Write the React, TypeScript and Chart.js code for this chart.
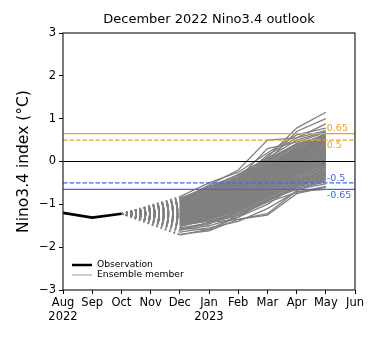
import React, { useEffect, useRef } from 'react';
import { Chart, registerables } from 'chart.js';
Chart.register(...registerables);

const titleText = 'December 2022 Nino3.4 outlook';
const yTitle = 'Nino3.4 index (°C)';
const monthLabels = ['Aug', 'Sep', 'Oct', 'Nov', 'Dec', 'Jan', 'Feb', 'Mar', 'Apr', 'May', 'Jun'];
const yearLabels: Record<number, string> = { 0: '2022', 5: '2023' };
const yTicks = [-3, -2, -1, 0, 1, 2, 3];

const obsMonths = [0, 1, 2];
const obsValues = [-1.2, -1.31, -1.22];

// ensemble start at Oct (last observation), then Dec..May
const ensMonths = [2, 4, 5, 6, 7, 8, 9];
const ensStart = -1.22;
const ensembleMembers: number[][] = [
  [-0.88, -0.58, -0.32, 0.05, 0.42, 0.6],
  [-0.92, -0.62, -0.38, 0.0, 0.38, 0.55],
  [-0.95, -0.66, -0.42, -0.05, 0.32, 0.52],
  [-0.98, -0.72, -0.46, -0.1, 0.25, 0.45],
  [-1.02, -0.76, -0.5, -0.15, 0.2, 0.4],
  [-1.05, -0.82, -0.58, -0.22, 0.12, 0.32],
  [-1.1, -0.86, -0.62, -0.26, 0.06, 0.25],
  [-1.13, -0.9, -0.68, -0.32, 0.0, 0.2],
  [-1.16, -0.95, -0.72, -0.36, -0.05, 0.14],
  [-1.2, -1.0, -0.78, -0.42, -0.1, 0.08],
  [-1.23, -1.04, -0.82, -0.48, -0.16, 0.02],
  [-1.27, -1.08, -0.88, -0.52, -0.2, -0.04],
  [-1.3, -1.12, -0.92, -0.58, -0.26, -0.1],
  [-1.34, -1.18, -0.98, -0.64, -0.32, -0.16],
  [-1.38, -1.22, -1.02, -0.68, -0.38, -0.22],
  [-1.42, -1.28, -1.08, -0.74, -0.44, -0.28],
  [-1.46, -1.32, -1.14, -0.8, -0.5, -0.35],
  [-1.5, -1.38, -1.2, -0.86, -0.56, -0.42],
  [-1.55, -1.44, -1.26, -0.92, -0.62, -0.48],
  [-0.9, -0.7, -0.55, -0.2, 0.2, 0.62],
  [-1.3, -0.95, -0.6, -0.1, 0.3, 0.5],
  [-1.1, -1.05, -0.9, -0.6, -0.3, -0.05],
  [-1.0, -0.88, -0.75, -0.5, -0.2, 0.1],
  [-1.45, -1.2, -0.85, -0.4, 0.0, 0.22],
  [-1.25, -0.98, -0.7, -0.25, 0.15, 0.38],
  [-1.6, -1.5, -1.3, -1.0, -0.55, -0.3],
  [-1.15, -0.8, -0.5, -0.1, 0.25, 0.48],
  [-1.35, -1.1, -0.8, -0.45, -0.15, 0.05],
  [-1.05, -0.9, -0.65, -0.3, 0.1, 0.3],
  [-1.28, -1.15, -0.95, -0.55, -0.22, -0.02],
  [-0.95, -0.75, -0.6, -0.35, -0.05, 0.15],
  [-1.4, -1.25, -1.05, -0.7, -0.35, -0.12],
  [-1.18, -0.92, -0.66, -0.3, 0.05, 0.28],
  [-1.5, -1.3, -1.0, -0.6, -0.25, 0.0],
  [-1.08, -0.85, -0.6, -0.2, 0.18, 0.42],
  [-1.22, -1.05, -0.85, -0.5, -0.18, 0.1],
  [-1.32, -1.02, -0.72, -0.35, 0.02, 0.2],
  [-0.92, -0.68, -0.45, -0.08, 0.3, 0.58],
  [-1.12, -0.98, -0.8, -0.42, -0.12, 0.12],
  [-1.38, -1.2, -0.92, -0.55, -0.28, -0.08],
  [-0.82, -0.5, -0.25, 0.2, 0.62, 0.78],
  [-0.9, -0.55, -0.2, 0.5, 0.55, 0.72],
  [-1.0, -0.7, -0.35, 0.1, 0.78, 1.15],
  [-1.05, -0.75, -0.4, 0.0, 0.7, 1.0],
  [-0.95, -0.6, -0.45, 0.15, 0.55, 0.88],
  [-1.7, -1.62, -1.35, -1.25, -0.75, -0.6],
  [-1.65, -1.55, -1.4, -1.1, -0.7, -0.65],
  [-1.72, -1.58, -1.3, -0.9, -0.65, -0.52],
  [-1.6, -1.42, -1.35, -1.22, -0.68, -0.42],
  [-1.55, -1.6, -1.25, -0.95, -0.72, -0.58],
  [-1.3, -1.4, -1.25, -0.9, -0.6, -0.35],
  [-1.2, -1.3, -1.15, -0.82, -0.55, -0.4],
  [-0.85, -0.65, -0.4, 0.3, 0.45, 0.68],
  [-1.48, -1.35, -1.1, -0.75, -0.5, -0.25],
  [-1.0, -0.62, -0.3, 0.08, 0.5, 0.7],
  [-1.15, -1.0, -0.7, -0.2, 0.35, 0.65],
  [-1.42, -1.12, -0.78, -0.28, 0.1, 0.35],
  [-1.26, -1.18, -1.0, -0.66, -0.4, -0.2],
  [-1.08, -0.8, -0.55, -0.25, 0.08, 0.25],
  [-1.34, -1.06, -0.86, -0.46, -0.08, 0.18],
  [-0.9, -0.64, -0.4, -0.02, 0.35, 0.57],
  [-0.94, -0.69, -0.44, -0.08, 0.28, 0.48],
  [-0.97, -0.74, -0.48, -0.12, 0.22, 0.43],
  [-1.0, -0.79, -0.54, -0.18, 0.16, 0.36],
  [-1.03, -0.84, -0.6, -0.24, 0.09, 0.29],
  [-1.07, -0.88, -0.65, -0.29, 0.03, 0.22],
  [-1.11, -0.92, -0.7, -0.34, -0.02, 0.17],
  [-1.14, -0.97, -0.75, -0.39, -0.08, 0.11],
  [-1.18, -1.02, -0.8, -0.45, -0.13, 0.05],
  [-1.21, -1.06, -0.85, -0.5, -0.18, -0.01],
  [-1.25, -1.1, -0.9, -0.55, -0.23, -0.07],
  [-1.29, -1.15, -0.95, -0.61, -0.29, -0.13],
  [-1.32, -1.2, -1.0, -0.66, -0.35, -0.19],
  [-1.36, -1.25, -1.05, -0.71, -0.41, -0.25],
  [-1.4, -1.3, -1.11, -0.77, -0.47, -0.31],
  [-1.44, -1.35, -1.17, -0.83, -0.53, -0.38],
  [-1.48, -1.4, -1.22, -0.89, -0.59, -0.45],
  [-0.86, -0.6, -0.35, 0.02, 0.4, 0.62],
  [-1.12, -0.84, -0.56, -0.18, 0.22, 0.46],
  [-1.24, -0.94, -0.64, -0.22, 0.18, 0.4],
  [-1.36, -1.14, -0.82, -0.38, 0.04, 0.26],
  [-1.02, -0.96, -0.84, -0.55, -0.26, -0.02],
  [-0.98, -0.82, -0.7, -0.4, -0.1, 0.2],
  [-1.3, -1.08, -0.76, -0.32, 0.08, 0.32],
  [-1.52, -1.34, -1.06, -0.62, -0.3, -0.06],
  [-1.16, -0.88, -0.58, -0.16, 0.24, 0.52],
  [-1.2, -1.12, -0.98, -0.7, -0.42, -0.3],
  [-1.44, -1.16, -0.9, -0.5, -0.12, 0.1],
  [-1.06, -0.78, -0.52, -0.14, 0.28, 0.5],
  [-1.28, -1.2, -1.04, -0.76, -0.46, -0.26],
  [-0.96, -0.72, -0.5, -0.3, 0.0, 0.3],
  [-1.4, -1.18, -0.96, -0.6, -0.2, 0.04],
  [-1.1, -0.94, -0.76, -0.46, -0.06, 0.16],
  [-1.34, -1.24, -1.1, -0.8, -0.48, -0.32],
  [-1.22, -0.9, -0.62, -0.24, 0.14, 0.36],
  [-1.58, -1.46, -1.16, -0.78, -0.46, -0.2],
  [-0.88, -0.66, -0.48, -0.12, 0.26, 0.54],
  [-1.14, -1.08, -0.88, -0.56, -0.24, 0.0],
  [-1.26, -1.0, -0.74, -0.38, -0.02, 0.24],
  [-1.46, -1.26, -1.0, -0.66, -0.36, -0.14],
];

const thresholds = [0.65, 0.5, -0.5, -0.65];
const thresholdLabels = ['0.65', '0.5', '-0.5', '-0.65'];
const thresholdColors = ['#E8A328', '#E8A328', '#4169E1', '#4169E1'];
const thresholdDashed = [false, true, true, false];
const thresholdAbove = [true, false, true, false];
const labelMonth = 9;

const FONT = "'DejaVu Sans', sans-serif";

const decor = {
  id: 'decor',
  afterDatasetsDraw(chart: any) {
    const { ctx, chartArea, scales } = chart;
    const { left, right, top, bottom } = chartArea;
    const x = scales.x;
    const y = scales.y;
    ctx.save();
    // threshold labels
    ctx.font = `9.5px ${FONT}`;
    ctx.textAlign = 'left';
    thresholds.forEach((t, i) => {
      ctx.fillStyle = thresholdColors[i];
      ctx.textBaseline = thresholdAbove[i] ? 'bottom' : 'top';
      const py = y.getPixelForValue(t) + (thresholdAbove[i] ? 0 : 1);
      ctx.fillText(thresholdLabels[i], x.getPixelForValue(labelMonth) + 1, py);
    });
    // frame
    ctx.strokeStyle = '#222';
    ctx.lineWidth = 1.2;
    ctx.strokeRect(left, top, right - left, bottom - top);
    // legend
    const lx0 = left + 9;
    const lx1 = left + 29;
    const ly0 = bottom - 25;
    const ly1 = bottom - 15;
    ctx.strokeStyle = '#000';
    ctx.lineWidth = 2.5;
    ctx.beginPath();
    ctx.moveTo(lx0, ly0);
    ctx.lineTo(lx1, ly0);
    ctx.stroke();
    ctx.strokeStyle = '#999';
    ctx.lineWidth = 1;
    ctx.beginPath();
    ctx.moveTo(lx0, ly1);
    ctx.lineTo(lx1, ly1);
    ctx.stroke();
    ctx.fillStyle = '#000';
    ctx.font = `9.2px ${FONT}`;
    ctx.textBaseline = 'middle';
    ctx.fillText('Observation', lx1 + 5, ly0);
    ctx.fillText('Ensemble member', lx1 + 5, ly1);
    // title
    ctx.font = `13px ${FONT}`;
    ctx.textAlign = 'center';
    ctx.textBaseline = 'middle';
    ctx.fillText(titleText, (left + right) / 2, 20);
    // y title
    ctx.font = `15.5px ${FONT}`;
    ctx.translate(24, (top + bottom) / 2);
    ctx.rotate(-Math.PI / 2);
    ctx.fillText(yTitle, 0, 0);
    ctx.restore();
  },
};

export default function App() {
  const ref = useRef<HTMLCanvasElement | null>(null);
  useEffect(() => {
    if (!ref.current) return;
    const datasets: any[] = [];
    datasets.push({
      data: obsMonths.map((m, i) => ({ x: m, y: obsValues[i] })),
      borderColor: '#000',
      borderWidth: 2.6,
      order: 0,
    });
    thresholds.forEach((t, i) => {
      datasets.push({
        data: [{ x: 0, y: t }, { x: 10, y: t }],
        borderColor: thresholdColors[i],
        borderWidth: 1.2,
        borderDash: thresholdDashed[i] ? [4.5, 2] : [],
        order: 1,
      });
    });
    datasets.push({
      data: [{ x: 0, y: 0 }, { x: 10, y: 0 }],
      borderColor: '#000',
      borderWidth: 1,
      order: 1,
    });
    ensembleMembers.forEach((vals) => {
      const ys = [ensStart, ...vals];
      datasets.push({
        data: ensMonths.map((m, i) => ({ x: m, y: ys[i] })),
        borderColor: '#808080',
        borderWidth: 1.3,
        order: 2,
        segment: {
          borderDash: (ctx: any) => (ctx.p0DataIndex === 0 ? [1.8, 2.8] : []),
        },
      });
    });
    const chart = new Chart(ref.current, {
      type: 'line',
      data: { datasets },
      plugins: [decor],
      options: {
        animation: false,
        responsive: false,
        events: [],
        layout: { padding: { left: 0, right: 23, top: 33, bottom: 0 } },
        elements: { point: { radius: 0 }, line: { tension: 0, borderCapStyle: 'butt' } },
        plugins: { legend: { display: false }, title: { display: false }, tooltip: { enabled: false } },
        scales: {
          x: {
            type: 'linear',
            min: 0,
            max: 10,
            afterBuildTicks: (s: any) => {
              s.ticks = monthLabels.map((_, i) => ({ value: i }));
            },
            afterFit: (s: any) => {
              s.height = 50;
              s.paddingLeft = 0;
              s.paddingRight = 0;
            },
            border: { display: false },
            grid: { drawOnChartArea: false, drawTicks: true, tickLength: 4, color: '#000', tickColor: '#000' },
            ticks: {
              autoSkip: false,
              maxRotation: 0,
              padding: 2,
              color: '#000',
              font: { family: FONT, size: 11.5 },
              callback: (v: any) => {
                const i = Math.round(Number(v));
                return yearLabels[i] ? [monthLabels[i], yearLabels[i]] : monthLabels[i];
              },
            },
          },
          y: {
            type: 'linear',
            min: -3,
            max: 3,
            afterBuildTicks: (s: any) => {
              s.ticks = yTicks.map((v) => ({ value: v }));
            },
            afterFit: (s: any) => {
              s.width = 63;
              s.paddingTop = 0;
              s.paddingBottom = 0;
            },
            border: { display: false },
            grid: { drawOnChartArea: false, drawTicks: true, tickLength: 4, color: '#000', tickColor: '#000' },
            ticks: {
              padding: 3,
              color: '#000',
              font: { family: FONT, size: 11.5 },
              callback: (v: any) => (Number(v) < 0 ? '\u2212' + Math.abs(Number(v)) : String(v)),
            },
          },
        },
      },
    });
    return () => chart.destroy();
  }, []);
  return (
    <div style={{ position: 'fixed', left: 0, top: 0, width: 378, height: 340, background: '#fff' }}>
      <canvas ref={ref} width={378} height={340} style={{ width: 378, height: 340 }} />
    </div>
  );
}
